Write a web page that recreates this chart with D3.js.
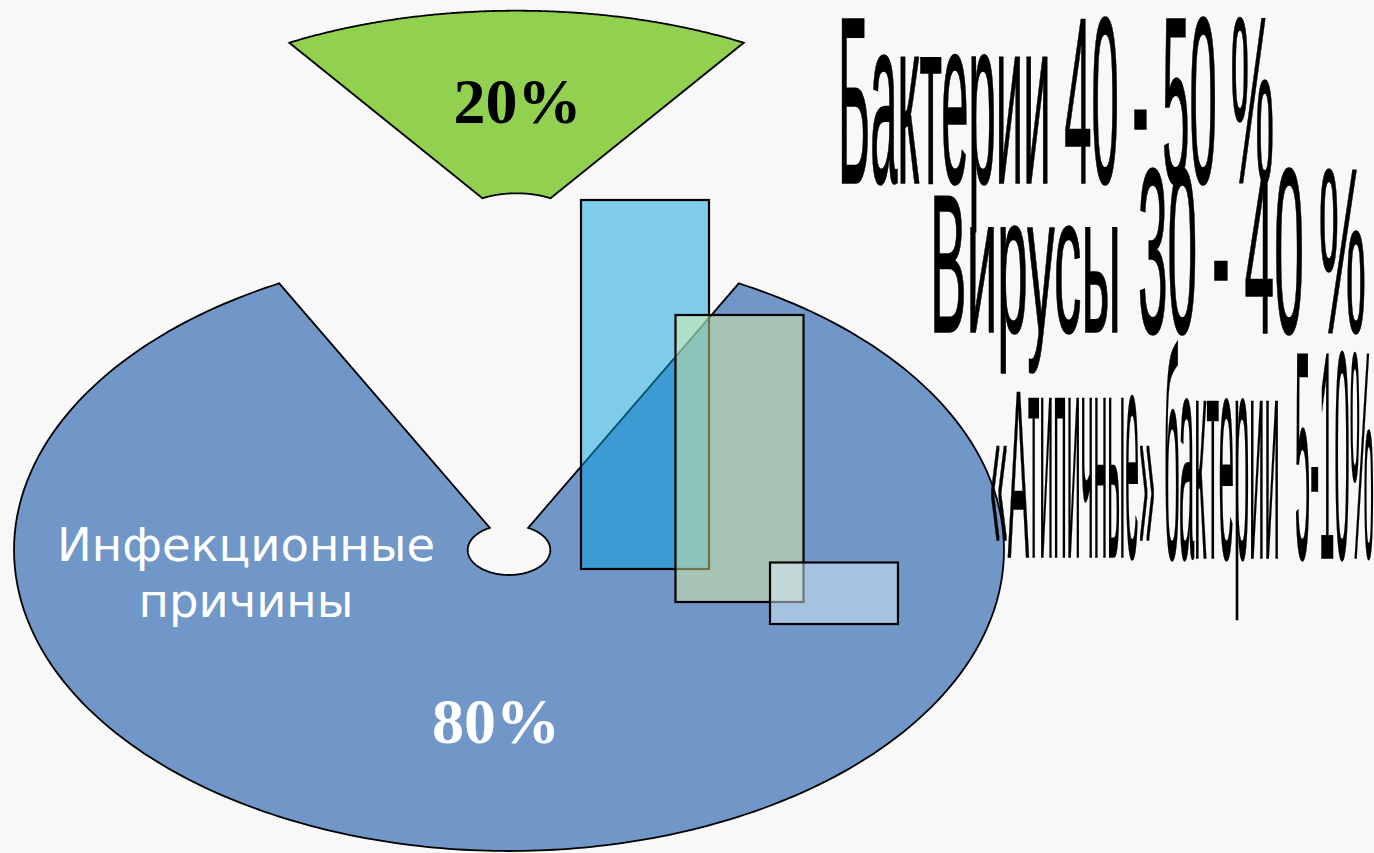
<!DOCTYPE html>
<html>
<head>
<meta charset="utf-8">
<script src="https://cdn.jsdelivr.net/npm/d3@7"></script>
<style>
  html, body { margin: 0; padding: 0; background: #f8f8f8; overflow: hidden; }
  svg { display: block; }
  .wordart { font-family: "Liberation Sans", Arial, sans-serif; font-weight: normal; white-space: pre; }
</style>
</head>
<body>
<svg id="chart" width="1374" height="853"></svg>
<script>
// ---- data -------------------------------------------------------------
// Share of causes: infectious vs. the rest
const pieCategories = ["Инфекционные причины", "Прочие причины"];
const pieShares = [80, 20];
const pieLabels = ["80%", "20%"];

// Infectious agents: reported share ranges, %
const agentCategories = ["Бактерии", "Вирусы", "«Атипичные» бактерии"];
const agentLow = [40, 30, 5];
const agentHigh = [50, 40, 10];

// Range captions, split into the pieces each drawn with its own stretch
const agentCaptionParts = [
  ["Бактерии 40 - 50 %"],
  ["Вирусы", "30 - 40 %"],
  ["«А", "типичные", "»", "бактерии  5-10%"]
];

// ---- layout -----------------------------------------------------------
const W = 1374, H = 853;
const svg = d3.select("#chart");

svg.append("rect").attr("width", W).attr("height", H).attr("fill", "#f8f8f8");

// tilted-ring projection of each pie piece (the top piece is pulled out)
const pieGeom = [
  { cx: 509, cy: 550, outer: { rx: 495, ry: 301 }, inner: { rx: 41.3, ry: 25 }, warp: 0.7214,
    fill: "#7097c8" },
  { cx: 516.5, cy: 226.7, outer: { rx: 433.5, ry: 216 }, inner: { rx: 65, ry: 33.4 }, warp: 0.847,
    fill: "#92d050" }
];

function project(theta, ring, g) {
  const t = Math.atan2(g.warp * Math.sin(theta), Math.cos(theta));
  return [g.cx + ring.rx * Math.sin(t), g.cy - ring.ry * Math.cos(t)];
}

function slicePath(a0, a1, g) {
  const n = 240;
  const angles = d3.range(n + 1).map(i => a0 + (a1 - a0) * i / n);
  const p = d3.path();
  angles.forEach((th, i) => {
    const [x, y] = project(th, g.outer, g);
    if (i === 0) p.moveTo(x, y); else p.lineTo(x, y);
  });
  angles.slice().reverse().forEach(th => {
    const [x, y] = project(th, g.inner, g);
    p.lineTo(x, y);
  });
  p.closePath();
  return p.toString();
}

// the small slice is centred on 12 o'clock
const smallHalf = Math.PI * pieShares[1] / 100;
const pie = d3.pie().sort(null).value(d => d)
  .startAngle(smallHalf).endAngle(smallHalf + 2 * Math.PI);
const arcs = pie(pieShares);

svg.append("g").selectAll("path")
  .data(arcs)
  .join("path")
  .attr("d", (d, i) => slicePath(d.startAngle, d.endAngle, pieGeom[i]))
  .attr("fill", (d, i) => pieGeom[i].fill)
  .attr("stroke", "#000")
  .attr("stroke-width", 1.8)
  .attr("stroke-linejoin", "miter");

// ---- bars: mid-point of each reported range ---------------------------
const agentMid = agentLow.map((lo, i) => (lo + agentHigh[i]) / 2);
const barLeft = d3.scaleLinear().domain([0, agentCategories.length - 1]).range([581, 770]);
const barHeight = d3.scaleLinear().domain([0, 45]).range([0, 369]);
const barWidth = 128;
const barFloor = [569, 602, 624];
const barFill = ["#06a0dc", "#e6f5a0", "#dcedf9"];
const barAlpha = [0.5, 0.47, 0.5];

svg.append("g").selectAll("rect")
  .data(agentMid)
  .join("rect")
  .attr("x", (d, i) => barLeft(i))
  .attr("y", (d, i) => barFloor[i] - barHeight(d))
  .attr("width", barWidth)
  .attr("height", d => barHeight(d))
  .attr("fill", (d, i) => barFill[i])
  .attr("fill-opacity", (d, i) => barAlpha[i])
  .attr("stroke", "#000")
  .attr("stroke-width", 2.2);

// ---- pie labels -------------------------------------------------------
const nameParts = pieCategories[0].split(" ");
const nameText = svg.append("text")
  .attr("fill", "#fff")
  .attr("font-family", "'DejaVu Sans', Verdana, sans-serif")
  .attr("font-size", 46.5)
  .attr("text-anchor", "middle");
nameText.selectAll("tspan")
  .data(nameParts)
  .join("tspan")
  .attr("x", 246)
  .attr("y", (d, i) => 561 + i * 56)
  .text(d => d);

const pctPos = [{ x: 496, y: 743, fill: "#fff" }, { x: 517.5, y: 122.5, fill: "#000" }];
svg.append("g").selectAll("text")
  .data(pieLabels)
  .join("text")
  .attr("x", (d, i) => pctPos[i].x)
  .attr("y", (d, i) => pctPos[i].y)
  .attr("fill", (d, i) => pctPos[i].fill)
  .attr("font-family", "'Liberation Serif', 'Times New Roman', serif")
  .attr("font-weight", "bold")
  .attr("font-size", 64)
  .attr("text-anchor", "middle")
  .text(d => d);

// ---- stretched range captions ----------------------------------------
const captionBoxes = [
  [{ x: 838, w: 436, base: 183, size: 237 }],
  [{ x: 930, w: 191, base: 332, size: 197 }, { x: 1138, w: 228, base: 333, size: 235 }],
  [{ x: 990, w: 39, base: 557, size: 239 }, { x: 1028, w: 111, base: 557, size: 300 },
   { x: 1139, w: 16, base: 557, size: 239 }, { x: 1164, w: 210, base: 558, size: 296 }]
];

const captionItems = agentCaptionParts.flatMap((parts, li) =>
  parts.map((txt, pi) => ({ txt, box: captionBoxes[li][pi] })));

svg.append("g").selectAll("text")
  .data(captionItems)
  .join("text")
  .attr("class", "wordart")
  .attr("x", d => d.box.x)
  .attr("y", d => d.box.base)
  .attr("font-size", d => d.box.size)
  .attr("textLength", d => d.box.w)
  .attr("lengthAdjust", "spacingAndGlyphs")
  .attr("fill", "#000")
  .attr("stroke", "#000")
  .attr("stroke-width", 1.6)
  .attr("stroke-linejoin", "round")
  .text(d => d.txt);
</script>
</body>
</html>
